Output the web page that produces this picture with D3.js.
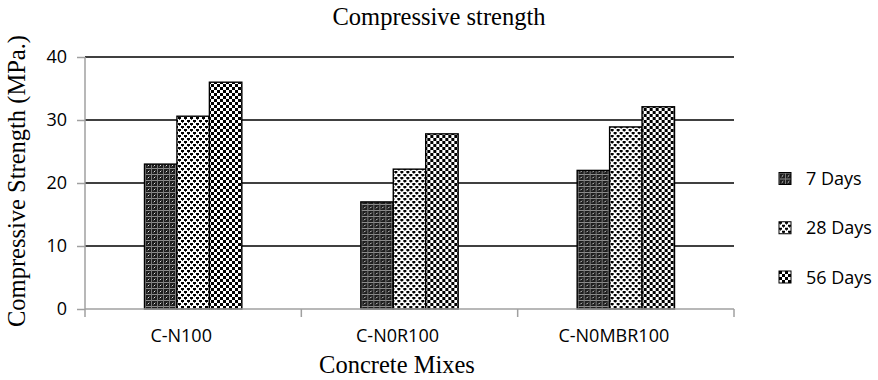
<!DOCTYPE html>
<html>
<head>
<meta charset="utf-8">
<script src="https://cdn.jsdelivr.net/npm/d3@7"></script>
<style>
  html, body { margin: 0; padding: 0; background: #fff; }
  svg { display: block; }
</style>
</head>
<body>
<svg id="chart" width="878" height="380"></svg>
<script>
// Concrete mixes on the x axis, one bar per curing age
const mixes = ["C-N100", "C-N0R100", "C-N0MBR100"];
const ages = ["7 Days", "28 Days", "56 Days"];
const days7 = [23.0, 17.0, 22.0];
const days28 = [30.6, 22.2, 28.9];
const days56 = [36.0, 27.8, 32.1];
const yTicks = [0, 10, 20, 30, 40];

const seriesValues = [days7, days28, days56];

const svg = d3.select("#chart");
const serif = "'Liberation Serif', 'Times New Roman', serif";
const sans = "'Open Sans', 'DejaVu Sans', sans-serif";

const plot = { left: 85, right: 734, top: 57, bottom: 309 };

const x0 = d3.scaleBand().domain(mixes).range([plot.left, plot.right]).padding(0);
const bw = x0.bandwidth();
const x1 = d3.scaleBand().domain(ages).range([bw * 0.275, bw * 0.725]).padding(0);
const y = d3.scaleLinear().domain([0, 40]).range([plot.bottom, plot.top]);

// Fill patterns for each curing age
const defs = svg.append("defs");

const p7 = defs.append("pattern").attr("id", "pat-7").attr("patternUnits", "userSpaceOnUse")
  .attr("width", 6).attr("height", 6);
p7.append("rect").attr("width", 6).attr("height", 6).attr("fill", "#1e1e1e");
p7.append("rect").attr("x", 0).attr("y", 0).attr("width", 6).attr("height", 1).attr("fill", "#8c8c8c");
p7.append("rect").attr("x", 0).attr("y", 0).attr("width", 1).attr("height", 6).attr("fill", "#7a7a7a");
p7.append("rect").attr("x", 3).attr("y", 3).attr("width", 1).attr("height", 1).attr("fill", "#e0e0e0");
p7.append("rect").attr("x", 2).attr("y", 4).attr("width", 1).attr("height", 1).attr("fill", "#5a5a5a");
p7.append("rect").attr("x", 4).attr("y", 2).attr("width", 1).attr("height", 1).attr("fill", "#5a5a5a");

const p28 = defs.append("pattern").attr("id", "pat-28").attr("patternUnits", "userSpaceOnUse")
  .attr("width", 6).attr("height", 6);
p28.append("rect").attr("width", 6).attr("height", 6).attr("fill", "#ffffff");
p28.append("rect").attr("x", 0).attr("y", 0).attr("width", 3).attr("height", 2).attr("fill", "#000");
p28.append("rect").attr("x", 3).attr("y", 3).attr("width", 3).attr("height", 2).attr("fill", "#000");
p28.append("rect").attr("x", 1).attr("y", 2).attr("width", 1).attr("height", 1).attr("fill", "#444");
p28.append("rect").attr("x", 4).attr("y", 5).attr("width", 1).attr("height", 1).attr("fill", "#444");

const p56 = defs.append("pattern").attr("id", "pat-56").attr("patternUnits", "userSpaceOnUse")
  .attr("width", 6).attr("height", 6);
p56.append("rect").attr("width", 6).attr("height", 6).attr("fill", "#ffffff");
p56.append("rect").attr("x", 0).attr("y", 0).attr("width", 3).attr("height", 3).attr("fill", "#000");
p56.append("rect").attr("x", 3).attr("y", 3).attr("width", 3).attr("height", 3).attr("fill", "#000");

const fills = d3.scaleOrdinal().domain(ages).range(["url(#pat-7)", "url(#pat-28)", "url(#pat-56)"]);

// Horizontal gridlines
svg.append("g")
  .selectAll("line")
  .data(yTicks.filter(t => t > 0))
  .join("line")
  .attr("x1", plot.left).attr("x2", plot.right)
  .attr("y1", d => y(d)).attr("y2", d => y(d))
  .attr("stroke", "#000").attr("stroke-width", 1.6);

// Grouped bars
const groups = svg.append("g")
  .selectAll("g")
  .data(mixes)
  .join("g")
  .attr("transform", d => `translate(${x0(d)},0)`);

groups.selectAll("rect")
  .data((m, i) => ages.map((a, k) => ({ age: a, value: seriesValues[k][i] })))
  .join("rect")
  .attr("x", d => x1(d.age))
  .attr("width", x1.bandwidth())
  .attr("y", d => y(d.value))
  .attr("height", d => y(0) - y(d.value))
  .attr("fill", d => fills(d.age))
  .attr("stroke", "#000")
  .attr("stroke-width", 1.4);

// Y axis
const yAxis = d3.axisLeft(y).tickValues(yTicks).tickSize(8).tickPadding(10);
const gy = svg.append("g").attr("transform", `translate(${plot.left},0)`).call(yAxis);
gy.select(".domain").attr("stroke", "#a0a0a0").attr("stroke-width", 1.5)
  .attr("d", `M0,${plot.top}V${plot.bottom + 8}`);
gy.selectAll(".tick line").attr("stroke", "#a0a0a0").attr("stroke-width", 1.5);
gy.selectAll(".tick text").attr("font-family", sans).attr("font-size", 18).attr("fill", "#000");

// X axis with boundary ticks between categories
const gx = svg.append("g").attr("transform", `translate(0,${plot.bottom})`);
gx.append("line").attr("x1", plot.left).attr("x2", plot.right).attr("y1", 0).attr("y2", 0)
  .attr("stroke", "#a0a0a0").attr("stroke-width", 1.5);
gx.selectAll("line.bound")
  .data(mixes.slice(1).concat(["end"]))
  .join("line")
  .attr("class", "bound")
  .attr("x1", d => d === "end" ? plot.right : x0(d))
  .attr("x2", d => d === "end" ? plot.right : x0(d))
  .attr("y1", 0).attr("y2", 8)
  .attr("stroke", "#a0a0a0").attr("stroke-width", 1.5);
gx.selectAll("text")
  .data(mixes)
  .join("text")
  .attr("x", d => x0(d) + bw / 2)
  .attr("dx", -12)
  .attr("y", 33)
  .attr("text-anchor", "middle")
  .attr("font-family", sans).attr("font-size", 18)
  .text(d => d);

// Titles
svg.append("text")
  .attr("x", 439).attr("y", 25)
  .attr("text-anchor", "middle")
  .attr("font-family", serif).attr("font-size", 24.5)
  .text("Compressive strength");

svg.append("text")
  .attr("x", 397).attr("y", 373)
  .attr("text-anchor", "middle")
  .attr("font-family", serif).attr("font-size", 24.5)
  .text("Concrete Mixes");

svg.append("text")
  .attr("transform", "translate(25,181) rotate(-90)")
  .attr("text-anchor", "middle")
  .attr("font-family", serif).attr("font-size", 24.5)
  .text("Compressive Strength (MPa.)");

// Legend
const legendY = d3.scalePoint().domain(ages).range([178.5, 277]);
const legend = svg.append("g")
  .selectAll("g")
  .data(ages)
  .join("g")
  .attr("transform", d => `translate(779,${legendY(d)})`);
legend.append("rect")
  .attr("x", 0).attr("y", -6).attr("width", 12).attr("height", 12)
  .attr("fill", d => fills(d))
  .attr("stroke", "#000").attr("stroke-width", 1);
legend.append("text")
  .attr("x", 27).attr("y", 6.5)
  .attr("font-family", sans).attr("font-size", 18)
  .text(d => d);
</script>
</body>
</html>
